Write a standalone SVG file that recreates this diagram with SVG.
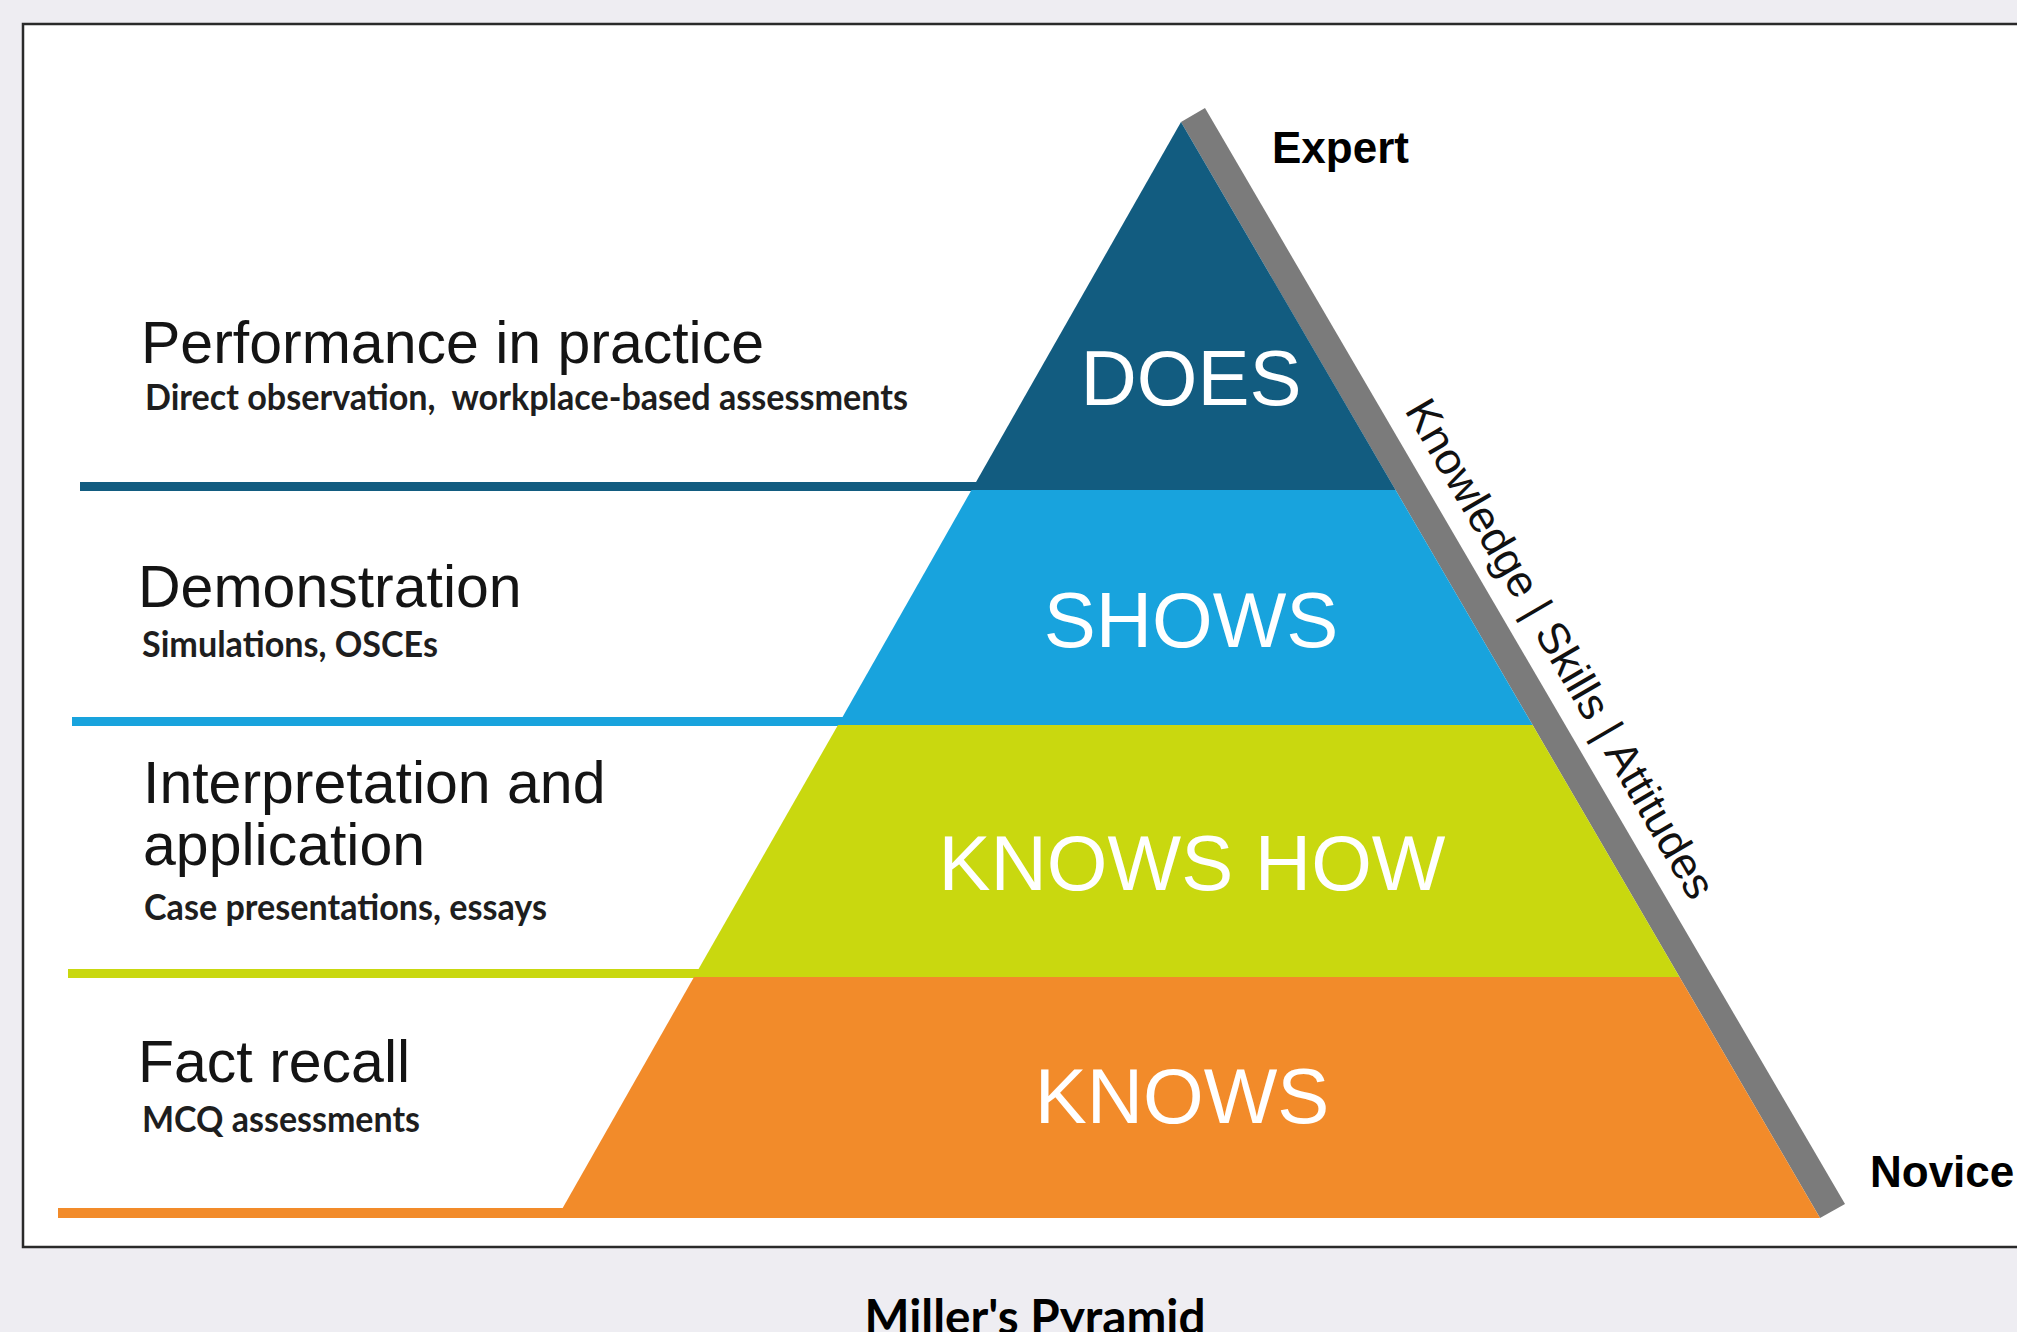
<svg xmlns="http://www.w3.org/2000/svg" width="2017" height="1332" viewBox="0 0 2017 1332">
<style>
.main{font-family:"Liberation Sans",Arial,sans-serif;font-size:59px;fill:#141414}
.sub{font-family:Lato,"Liberation Sans",sans-serif;font-weight:bold;font-size:36px;fill:#1e1e1e}
.lvl{font-family:"Liberation Sans",Arial,sans-serif;font-size:78px;fill:#ffffff;text-anchor:middle}
.tag{font-family:"Liberation Sans",Arial,sans-serif;font-weight:bold;font-size:44px;fill:#000000}
.axis{font-family:"Liberation Sans",Arial,sans-serif;font-size:44px;fill:#111111}
.title{font-family:Lato,"Liberation Sans",sans-serif;font-weight:bold;font-size:48px;fill:#000000;text-anchor:middle}
</style>
<rect x="0" y="0" width="2017" height="1332" fill="#eeedf2"/>
<rect x="23" y="24" width="2100" height="1223" fill="#ffffff" stroke="#2a2a2a" stroke-width="2.5"/>

<g id="connectors">
<rect x="80" y="482" width="900" height="9" fill="#125c80"/>
<rect x="72" y="717" width="775" height="9" fill="#18a3dd"/>
<rect x="68" y="969" width="632" height="9" fill="#c9d80f"/>
<rect x="58" y="1208" width="505" height="10" fill="#f28b2a"/>
</g>

<g id="band">
<polygon points="1181,122 1205,108 1845,1204 1820,1218" fill="#7b7b7b"/>
</g>

<g id="does">
<polygon points="1181,122 1395.6,490 971.5,490" fill="#125c80"/>
<text class="lvl" x="1191" y="405">DOES</text>
</g>
<g id="shows">
<polygon points="971.5,490 1395.6,490 1532.6,725 838,725" fill="#18a3dd"/>
<text class="lvl" x="1191" y="647">SHOWS</text>
</g>
<g id="knowshow">
<polygon points="838,725 1532.6,725 1679.5,977 694,977" fill="#c9d80f"/>
<text class="lvl" x="1192" y="890">KNOWS HOW</text>
</g>
<g id="knows">
<polygon points="694,977 1679.5,977 1820,1218 557,1218" fill="#f28b2a"/>
<text class="lvl" x="1182" y="1123">KNOWS</text>
</g>

<g id="label-does">
<text class="main" x="141" y="363">Performance in practice</text>
<text class="sub" x="145" y="410" xml:space="preserve" textLength="763" lengthAdjust="spacingAndGlyphs">Direct observation,  workplace-based assessments</text>
</g>
<g id="label-shows">
<text class="main" x="138" y="607">Demonstration</text>
<text class="sub" x="142" y="657" textLength="296" lengthAdjust="spacingAndGlyphs">Simulations, OSCEs</text>
</g>
<g id="label-knowshow">
<text class="main" x="143" y="803">Interpretation and</text>
<text class="main" x="143" y="865">application</text>
<text class="sub" x="144" y="920" textLength="403" lengthAdjust="spacingAndGlyphs">Case presentations, essays</text>
</g>
<g id="label-knows">
<text class="main" x="138" y="1082">Fact recall</text>
<text class="sub" x="142" y="1132" textLength="278" lengthAdjust="spacingAndGlyphs">MCQ assessments</text>
</g>

<g id="expert"><text class="tag" x="1272" y="163">Expert</text></g>
<g id="novice"><text class="tag" x="1870" y="1187">Novice</text></g>
<g id="axis-label">
<text class="axis" transform="translate(1404,410) rotate(59.76)" textLength="570" lengthAdjust="spacingAndGlyphs">Knowledge | Skills | Attitudes</text>
</g>
<g id="title"><text class="title" x="1035" y="1334" textLength="341" lengthAdjust="spacingAndGlyphs">Miller's Pyramid</text></g>
</svg>
